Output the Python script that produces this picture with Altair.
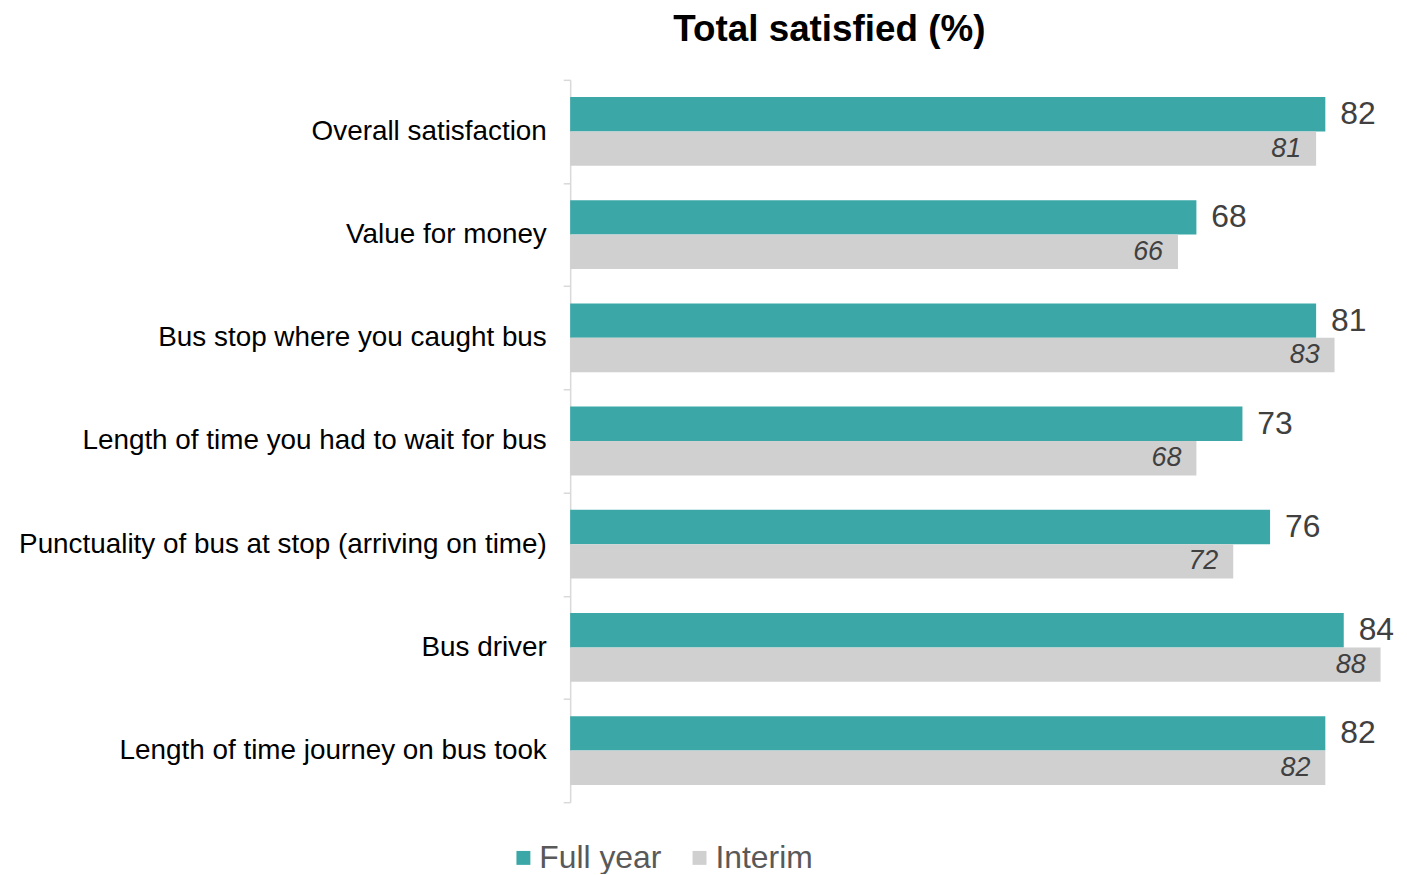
import altair as alt
import pandas as pd

categories = [
    "Overall satisfaction",
    "Value for money",
    "Bus stop where you caught bus",
    "Length of time you had to wait for bus",
    "Punctuality of bus at stop (arriving on time)",
    "Bus driver",
    "Length of time journey on bus took",
]
full_year = [82, 68, 81, 73, 76, 84, 82]
interim = [81, 66, 83, 68, 72, 88, 82]
series = ["Full year", "Interim"]
colors = ["#3BA7A7", "#D0D0D0"]

rows = []
for c, f, i in zip(categories, full_year, interim):
    rows.append({"category": c, "series": "Full year", "value": f})
    rows.append({"category": c, "series": "Interim", "value": i})
df = pd.DataFrame(rows)

FONT = "Liberation Sans"

y_enc = alt.Y(
    "category:N",
    sort=categories,
    scale=alt.Scale(paddingInner=0, paddingOuter=0),
    axis=alt.Axis(
        title=None,
        labelFontSize=28,
        labelFont=FONT,
        labelColor="#000000",
        labelPadding=17,
        tickSize=7,
        tickColor="#D9D9D9",
        tickWidth=1.5,
        domainColor="#D9D9D9",
        domainWidth=1.5,
        tickBand="extent",
        labelLimit=700,
    ),
)
x_enc = alt.X("value:Q", scale=alt.Scale(domain=[0, 90], nice=False), axis=None)
yoff = alt.YOffset("series:N", sort=series, scale=alt.Scale(paddingOuter=0.5, paddingInner=0))

base = alt.Chart(df)

bars = base.mark_bar().encode(
    y=y_enc,
    x=x_enc,
    yOffset=yoff,
    color=alt.Color(
        "series:N",
        sort=series,
        scale=alt.Scale(domain=series, range=colors),
        legend=alt.Legend(
            title=None,
            orient="none",
            direction="horizontal",
            legendX=-63,
            legendY=766,
            symbolType="square",
            symbolSize=196,
            symbolStrokeWidth=0,
            labelFontSize=32,
            labelFont=FONT,
            labelColor="#595959",
            labelOffset=0,
            columnPadding=22,
        ),
    ),
)

full_labels = base.transform_filter(alt.datum.series == "Full year").mark_text(
    align="left", baseline="middle", dx=15, fontSize=32, font=FONT, color="#404040"
).encode(y=y_enc, x=x_enc, yOffset=yoff, text="value:Q")

int_labels = base.transform_filter(alt.datum.series == "Interim").mark_text(
    align="right", baseline="middle", dx=-15, fontSize=27, font=FONT, fontStyle="italic", color="#404040"
).encode(y=y_enc, x=x_enc, yOffset=yoff, text="value:Q")

chart = (
    alt.layer(bars, full_labels, int_labels)
    .properties(
        width=833,
        height=726,
        padding={"left": 565, "top": 70, "right": 0, "bottom": 70},
        autosize="none",
        title=alt.TitleParams(
            "Total satisfied (%)",
            fontSize=37,
            font=FONT,
            fontWeight="bold",
            color="#000000",
            anchor="middle",
            dx=-156,
            dy=12,
            baseline="alphabetic",
            offset=0,
        ),
    )
    .configure_view(strokeWidth=0)
)

chart.save("out.html", embed_options={"renderer": "svg", "actions": False})
